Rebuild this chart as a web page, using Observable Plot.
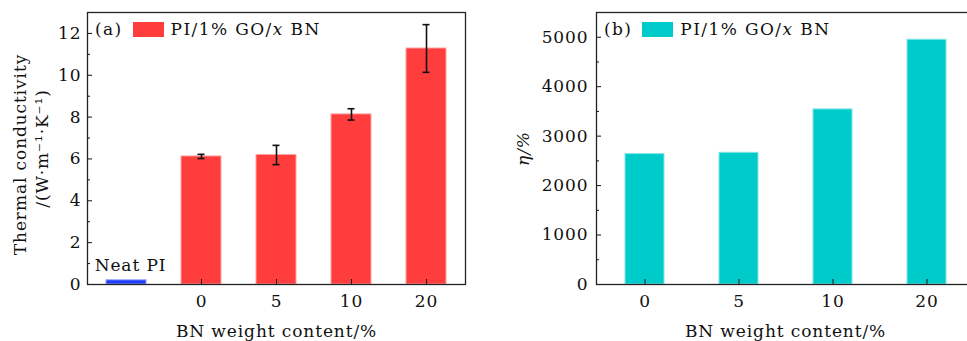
<!DOCTYPE html>
<html>
<head>
<meta charset="utf-8">
<script src="https://cdn.jsdelivr.net/npm/d3@7"></script>
<script src="https://cdn.jsdelivr.net/npm/@observablehq/plot@0.6"></script>
<style>
  html, body { margin: 0; padding: 0; background: #fff; overflow: hidden; }
  #wrap { position: relative; width: 967px; height: 341px; overflow: hidden; font-family: "DejaVu Serif", serif; }
  .panel { position: absolute; top: 0; }
  .panel svg { max-width: none !important; }
  .panel svg text { letter-spacing: 0.9px; }
  .legend { position: absolute; top: 19px; font-size: 17px; color: #111; white-space: nowrap; display: flex; align-items: center; letter-spacing: 1.4px; }
  .sw { display: inline-block; width: 31px; height: 15px; margin: 0 7px 0 10px; }
</style>
</head>
<body>
<div id="wrap">
  <div id="p1" class="panel" style="left:0px; width:490px"></div>
  <div id="p2" class="panel" style="left:483px; width:500px"></div>
  <div class="legend" style="left:95px"><span>(a)</span><span class="sw" style="background:#ff3d3d"></span><span>PI/1% GO/<i>x</i> BN</span></div>
  <div class="legend" style="left:604px"><span>(b)</span><span class="sw" style="background:#00cbcb"></span><span>PI/1% GO/<i>x</i> BN</span></div>
</div>
<script>
// ---- data ----
const categoriesA = ["Neat PI", "0", "5", "10", "20"];
const bnLabels = ["0", "5", "10", "20"];
const neatPI = 0.2;
const conductivity = [6.12, 6.19, 8.13, 11.28];
const conductivityErr = [0.1, 0.46, 0.27, 1.14];
const eta = [2637, 2663, 3541, 4949];
const yTicksA = [0, 2, 4, 6, 8, 10, 12];
const yMinorA = [1, 3, 5, 7, 9, 11];
const yTicksB = [0, 1000, 2000, 3000, 4000, 5000];
const yMinorB = [500, 1500, 2500, 3500, 4500];

const FONT = "DejaVu Serif";
const FS = 17;

const tableA = bnLabels.map((c, i) => ({cat: c, v: conductivity[i], e: conductivityErr[i]}));
const neatRow = [{cat: "Neat PI", v: neatPI}];
const tableB = bnLabels.map((c, i) => ({cat: c, v: eta[i]}));

const p1 = Plot.plot({
  width: 490, height: 341,
  marginLeft: 87, marginRight: 25, marginTop: 12, marginBottom: 57,
  style: {fontFamily: FONT, fontSize: FS + "px", color: "#111", background: "transparent", overflow: "visible"},
  x: {type: "band", domain: categoriesA, paddingInner: 0.47, paddingOuter: 0.235},
  y: {domain: [0, 13]},
  marks: [
    Plot.barY(neatRow, {x: "cat", y: "v", fill: "#1f3cff", stroke: "#8fa0ff", strokeWidth: 1}),
    Plot.barY(tableA, {x: "cat", y: "v", fill: "#ff3d3d", stroke: "#ffa3a3", strokeWidth: 1}),
    Plot.ruleX(tableA, {x: "cat", y1: d => d.v - d.e, y2: d => d.v + d.e, stroke: "#111", strokeWidth: 1.6}),
    Plot.tickY(tableA, {x: "cat", y: d => d.v - d.e, stroke: "#111", strokeWidth: 1.6, insetLeft: 16.5, insetRight: 16.5}),
    Plot.tickY(tableA, {x: "cat", y: d => d.v + d.e, stroke: "#111", strokeWidth: 1.6, insetLeft: 16.5, insetRight: 16.5}),
    Plot.text(neatRow, {x: "cat", y: "v", text: d => "Neat PI", dy: -15, dx: 4, fontSize: FS}),
    Plot.axisY({ticks: yTicksA, tickSize: -5, text: null, label: null}),
    Plot.axisY({ticks: yMinorA, tickSize: -3, text: null, label: null}),
    Plot.axisY({ticks: yTicksA, tickSize: 0, tickPadding: 6, fontSize: FS, label: null}),
    Plot.axisX({ticks: bnLabels, tickSize: -5, text: null, label: null}),
    Plot.axisX({ticks: bnLabels, tickSize: 0, tickPadding: 10, fontSize: FS, label: null}),
    Plot.text(["Thermal conductivity"], {frameAnchor: "left", textAnchor: "middle", lineAnchor: "middle", rotate: -90, dx: -67, dy: 6, text: d => d, fontSize: FS}),
    Plot.text(["/(W\u00b7m\u207b\u00b9\u00b7K\u207b\u00b9)"], {frameAnchor: "left", textAnchor: "middle", lineAnchor: "middle", rotate: -90, dx: -45, text: d => d, fontSize: FS}),
    Plot.text(["BN weight content/%"], {frameAnchor: "bottom", lineAnchor: "middle", dy: 47, text: d => d, fontSize: FS}),
    Plot.frame({stroke: "#222", strokeWidth: 1.3})
  ]
});
document.getElementById("p1").appendChild(p1);

const p2 = Plot.plot({
  width: 500, height: 341,
  marginLeft: 113, marginRight: 9, marginTop: 12, marginBottom: 57,
  style: {fontFamily: FONT, fontSize: FS + "px", color: "#111", background: "transparent", overflow: "visible"},
  x: {type: "band", domain: bnLabels, paddingInner: 0.59, paddingOuter: 0.295},
  y: {domain: [0, 5500]},
  marks: [
    Plot.barY(tableB, {x: "cat", y: "v", fill: "#00cbcb", stroke: "#84e6e6", strokeWidth: 1}),
    Plot.axisY({ticks: yTicksB, tickSize: -5, text: null, label: null}),
    Plot.axisY({ticks: yMinorB, tickSize: -3, text: null, label: null}),
    Plot.axisY({ticks: yTicksB, tickSize: 0, tickPadding: 8, fontSize: FS, label: null, tickFormat: d => String(d)}),
    Plot.axisX({ticks: bnLabels, tickSize: -5, text: null, label: null}),
    Plot.axisX({ticks: bnLabels, tickSize: 0, tickPadding: 10, fontSize: FS, label: null}),
    Plot.text(["\u03b7/%"], {frameAnchor: "left", textAnchor: "middle", lineAnchor: "middle", rotate: -90, dx: -73, text: d => d, fontSize: FS, fontStyle: "italic"}),
    Plot.text(["BN weight content/%"], {frameAnchor: "bottom", lineAnchor: "middle", dy: 47, text: d => d, fontSize: FS}),
    Plot.frame({stroke: "#222", strokeWidth: 1.3})
  ]
});
document.getElementById("p2").appendChild(p2);
</script>
</body>
</html>
